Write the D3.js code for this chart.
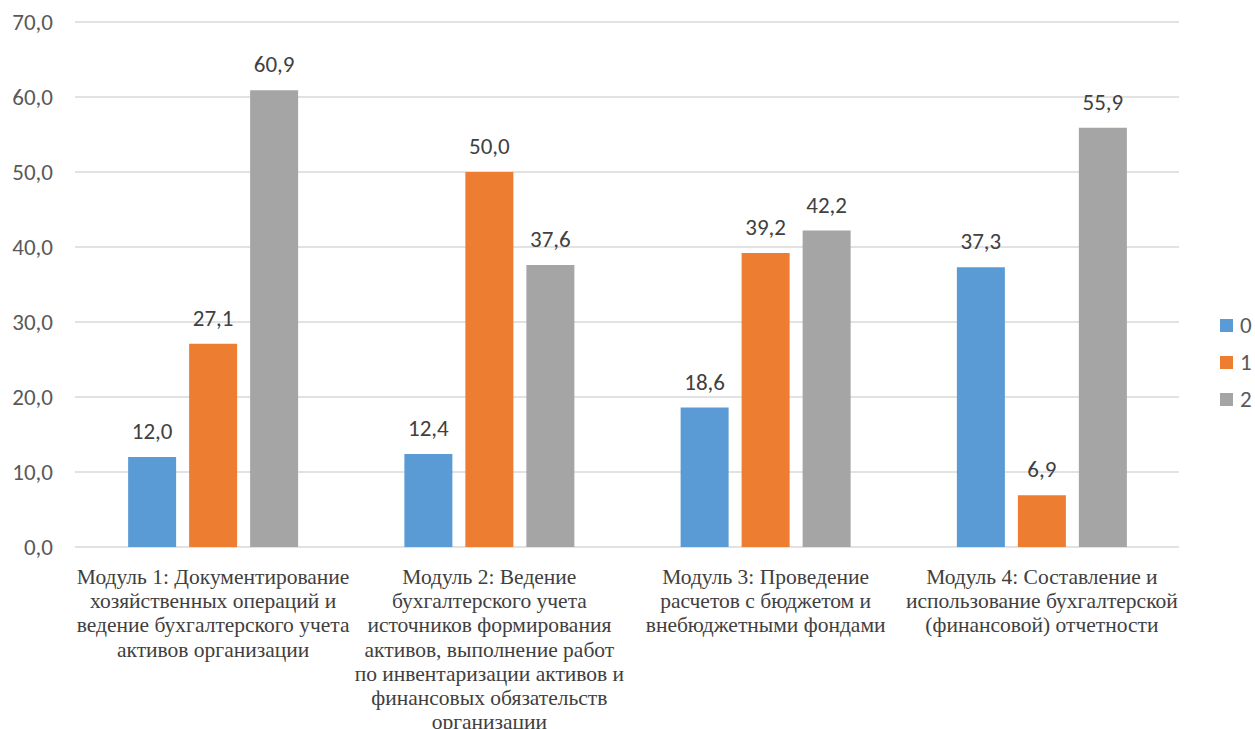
<!doctype html>
<html>
<head>
<meta charset="utf-8">
<script src="https://cdnjs.cloudflare.com/ajax/libs/d3/7.8.5/d3.min.js"></script>
<style>
  body { margin: 0; background: #fff; }
  svg { display: block; }
  .cat { font-family: "Liberation Serif", "Times New Roman", Tinos, "DejaVu Serif", serif; }
</style>
</head>
<body>
<svg id="chart" width="1255" height="729"></svg>
<script>
// categories, split in lines like the original
var categories = [
  ["Модуль 1: Документирование", "хозяйственных операций и", "ведение бухгалтерского учета", "активов организации"],
  ["Модуль 2: Ведение", "бухгалтерского учета", "источников формирования", "активов, выполнение работ", "по инвентаризации активов и", "финансовых обязательств", "организации"],
  ["Модуль 3: Проведение", "расчетов с бюджетом и", "внебюджетными фондами"],
  ["Модуль 4: Составление и", "использование бухгалтерской", "(финансовой) отчетности"]
];
var seriesNames = ["0", "1", "2"];
var series0 = [12.0, 12.4, 18.6, 37.3];
var series1 = [27.1, 50.0, 39.2, 6.9];
var series2 = [60.9, 37.6, 42.2, 55.9];
var colors = ["#5b9bd5", "#ed7d31", "#a5a5a5"];
var yTicks = [0, 10, 20, 30, 40, 50, 60, 70];

function drawChart() {
  var svg = d3.select("#chart");
  var mLeft = 75, mRight = 1180, mTop = 22, mBottom = 547;
  var groupW = 170;
  var sans = "Carlito, Calibri, 'Open Sans', sans-serif";

  var x = d3.scaleBand().domain(d3.range(categories.length)).range([mLeft, mRight]);
  var y = d3.scaleLinear().domain([0, 70]).range([mBottom, mTop]);
  var inner = d3.scaleBand().domain(seriesNames).range([0, groupW]).paddingInner(0.213);

  var fmt = function(v) { return d3.format(".1f")(v).replace(".", ","); };

  // gridlines
  svg.append("g").selectAll("line").data(yTicks).enter().append("line")
    .attr("x1", mLeft).attr("x2", mRight - 1)
    .attr("y1", d => y(d)).attr("y2", d => y(d))
    .attr("stroke", "#d9d9d9").attr("stroke-width", 1.3);

  // y labels
  svg.append("g").selectAll("text").data(yTicks).enter().append("text")
    .attr("x", 53).attr("y", d => y(d) + 8)
    .attr("text-anchor", "end")
    .style("font-family", sans)
    .style("font-size", "23px").attr("fill", "#595959")
    .text(fmt);

  var data = [series0, series1, series2];
  data.forEach(function(vals, si) {
    var g = svg.append("g");
    var bx = (d, i) => x(i) + (x.bandwidth() - groupW) / 2 + inner(seriesNames[si]);
    g.selectAll("rect").data(vals).enter().append("rect")
      .attr("x", bx)
      .attr("width", inner.bandwidth())
      .attr("y", d => y(d)).attr("height", d => y(0) - y(d))
      .attr("fill", colors[si]);
    g.selectAll("text").data(vals).enter().append("text")
      .attr("x", (d, i) => bx(d, i) + inner.bandwidth() / 2)
      .attr("y", d => y(d) - 18)
      .attr("text-anchor", "middle")
      .style("font-family", sans)
      .style("font-size", "23px").attr("fill", "#404040")
      .text(fmt);
  });

  // category labels
  categories.forEach(function(lines, i) {
    var t = svg.append("text")
      .attr("class", "cat")
      .attr("text-anchor", "middle")
      .style("font-size", "21.5px").attr("fill", "#404040");
    lines.forEach(function(l, k) {
      t.append("tspan").attr("x", x(i) + x.bandwidth() / 2).attr("y", 584 + k * 24.2).text(l);
    });
  });

  // legend
  var leg = svg.append("g");
  seriesNames.forEach(function(n, i) {
    leg.append("rect").attr("x", 1220).attr("y", 319 + i * 37).attr("width", 13).attr("height", 13).attr("fill", colors[i]);
    leg.append("text").attr("x", 1240).attr("y", 333 + i * 37)
      .style("font-family", sans)
      .style("font-size", "23px").attr("fill", "#595959").text(n);
  });
}
drawChart();
</script>
</body>
</html>
